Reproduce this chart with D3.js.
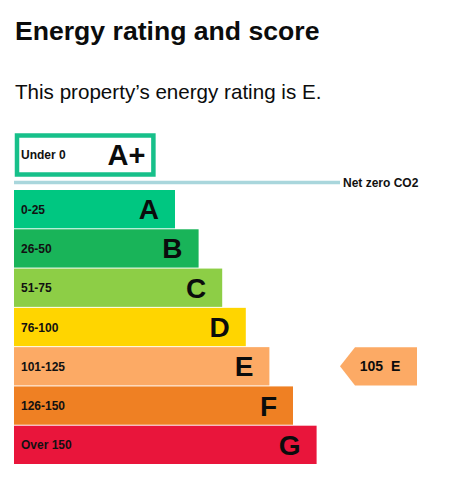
<!DOCTYPE html>
<html>
<head>
<meta charset="utf-8">
<script src="https://cdn.jsdelivr.net/npm/d3@7"></script>
<style>
  body { margin: 0; background: #fff; }
  svg { display: block; font-family: "Liberation Sans", Arial, sans-serif; }
</style>
</head>
<body>
<div id="chart"></div>
<script>
// EPC bands
var ratings = ["A", "B", "C", "D", "E", "F", "G"];
var ranges = ["0-25", "26-50", "51-75", "76-100", "101-125", "126-150", "Over 150"];
var maxScores = [25, 50, 75, 100, 125, 150, 175];
var colors = ["#00c781", "#19b459", "#8dce46", "#ffd500", "#fcaa65", "#ef8023", "#e9153b"];

var plusRating = "A+", plusRange = "Under 0", plusScore = 0, plusColor = "#17c08a";
var netZeroLabel = "Net zero CO2";
var currentScore = 105, currentRating = "E";

var width = 475, height = 481;

var svg = d3.select("#chart").append("svg")
  .attr("width", width)
  .attr("height", height);

svg.append("text")
  .attr("x", 15)
  .attr("y", 40)
  .attr("font-size", 26.6)
  .attr("font-weight", "bold")
  .attr("fill", "#0b0c0c")
  .text("Energy rating and score");

svg.append("text")
  .attr("x", 15)
  .attr("y", 98.5)
  .attr("font-size", 20.6)
  .attr("fill", "#0b0c0c")
  .text("This property\u2019s energy rating is " + currentRating + ".");

var left = 14;

// bar length grows with the top of each score band
var x = d3.scaleLinear()
  .domain([25, 150])
  .range([175, 293]);

var y = d3.scaleBand()
  .domain(ratings)
  .range([190, 464])
  .paddingInner(0.025)
  .paddingOuter(0);

// A+ box
svg.append("rect")
  .attr("x", left + 3)
  .attr("y", 135.5)
  .attr("width", x(plusScore) + 2 - left - 3)
  .attr("height", 39)
  .attr("fill", "#fff")
  .attr("stroke", plusColor)
  .attr("stroke-width", 4.5);

svg.append("text")
  .attr("x", 21)
  .attr("y", 158.5)
  .attr("font-size", 12)
  .attr("font-weight", "bold")
  .attr("fill", "#111")
  .text(plusRange);

svg.append("text")
  .attr("x", x(plusScore) - 6)
  .attr("y", 165)
  .attr("text-anchor", "end")
  .attr("font-size", 29)
  .attr("font-weight", "bold")
  .attr("fill", "#0b0c0c")
  .text(plusRating);

// net zero line
svg.append("line")
  .attr("x1", left)
  .attr("x2", 340)
  .attr("y1", 182.5)
  .attr("y2", 182.5)
  .attr("stroke", "#a9d6dc")
  .attr("stroke-width", 3.5);

svg.append("text")
  .attr("x", 343)
  .attr("y", 187)
  .attr("font-size", 12)
  .attr("font-weight", "bold")
  .attr("fill", "#111")
  .text(netZeroLabel);

// bars
var bands = svg.append("g").selectAll("g")
  .data(ratings)
  .enter().append("g");

bands.append("rect")
  .attr("x", left)
  .attr("y", function(d) { return y(d); })
  .attr("width", function(d, i) { return x(maxScores[i]) - left; })
  .attr("height", y.bandwidth())
  .attr("fill", function(d, i) { return colors[i]; });

bands.append("text")
  .attr("x", 21)
  .attr("y", function(d) { return y(d) + y.bandwidth() / 2 + 4.5; })
  .attr("font-size", 12)
  .attr("font-weight", "bold")
  .attr("fill", "#111")
  .text(function(d, i) { return ranges[i]; });

bands.append("text")
  .attr("x", function(d, i) { return x(maxScores[i]) - 16; })
  .attr("y", function(d) { return y(d) + y.bandwidth() / 2 + 10; })
  .attr("text-anchor", "end")
  .attr("font-size", 28)
  .attr("font-weight", "bold")
  .attr("fill", "#0b0c0c")
  .text(function(d) { return d; });

// current rating arrow
var idx = ratings.indexOf(currentRating);
var ay = y(currentRating), ah = y.bandwidth(), ax = 340;
svg.append("path")
  .attr("d", "M" + ax + "," + (ay + ah / 2) +
    "L" + (ax + 15) + "," + ay +
    "L417," + ay +
    "L417," + (ay + ah) +
    "L" + (ax + 15) + "," + (ay + ah) + "Z")
  .attr("fill", colors[idx]);

svg.append("text")
  .attr("x", 380)
  .attr("y", ay + ah / 2 + 5)
  .attr("text-anchor", "middle")
  .attr("font-size", 14)
  .attr("font-weight", "bold")
  .attr("fill", "#0b0c0c")
  .style("white-space", "pre")
  .text(currentScore + "  " + currentRating);
</script>
</body>
</html>
